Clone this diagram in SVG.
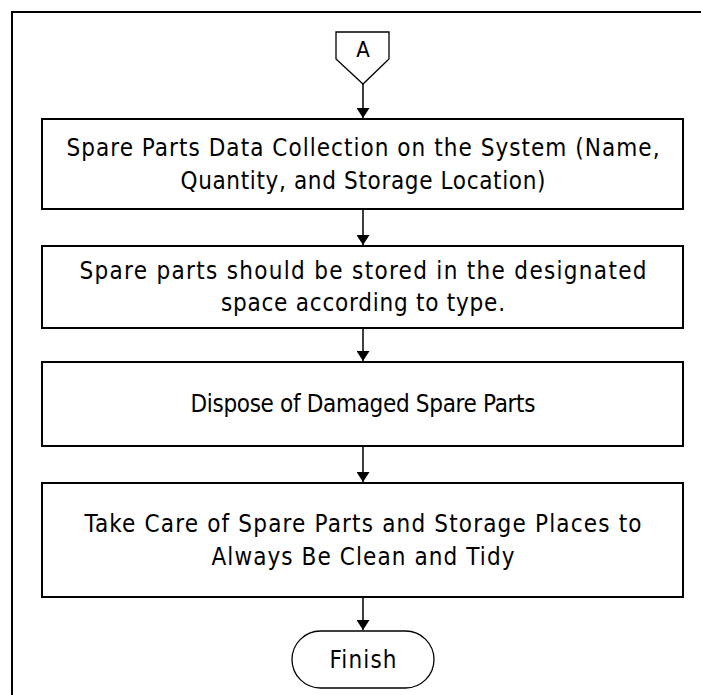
<svg xmlns="http://www.w3.org/2000/svg" width="701" height="695" viewBox="0 0 701 695">
  <style>
    .frame { fill: none; stroke: #000; stroke-width: 2; }
    .box { fill: #fff; stroke: #000; stroke-width: 2; }
    .conn { fill: #fff; stroke: #000; stroke-width: 1.3; }
    .edge { fill: none; stroke: #000; stroke-width: 1.5; }
    .lbl { font-family: "DejaVu Sans Condensed", "DejaVu Sans", sans-serif; font-size: 24px; fill: #000; text-anchor: middle; dominant-baseline: central; }
  </style>
  <defs>
    <marker id="arrow" viewBox="0 0 10 13" refX="10" refY="6.5" markerWidth="10" markerHeight="13" markerUnits="userSpaceOnUse" orient="auto">
      <path d="M0,0 L10,6.5 L0,13 Z" fill="#000"/>
    </marker>
  </defs>
  <rect width="701" height="695" fill="#fff"/>
  <!-- page border, open past the right and bottom edges -->
  <rect class="frame" x="12" y="12" width="720" height="720"/>

  <g id="connectors">
    <line class="edge" x1="363" y1="84" x2="363" y2="118" marker-end="url(#arrow)"/>
    <line class="edge" x1="363" y1="209" x2="363" y2="245" marker-end="url(#arrow)"/>
    <line class="edge" x1="363" y1="328" x2="363" y2="361" marker-end="url(#arrow)"/>
    <line class="edge" x1="363" y1="446" x2="363" y2="482" marker-end="url(#arrow)"/>
    <line class="edge" x1="363" y1="597" x2="363" y2="630" marker-end="url(#arrow)"/>
  </g>

  <g id="connector-a">
    <polygon class="conn" points="336,32 389,32 389,59 363,84 336,59"/>
    <text class="lbl" x="363" y="49" style="font-size:22px">A</text>
  </g>

  <g id="step-collect">
    <rect class="box" x="42" y="119" width="641" height="90"/>
    <text class="lbl" x="363" y="148" textLength="593" lengthAdjust="spacing">Spare Parts Data Collection on the System (Name,</text>
    <text class="lbl" x="363" y="181" textLength="365" lengthAdjust="spacing">Quantity, and Storage Location)</text>
  </g>

  <g id="step-store">
    <rect class="box" x="42" y="246" width="641" height="82"/>
    <text class="lbl" x="363" y="271" textLength="567" lengthAdjust="spacing">Spare parts should be stored in the designated</text>
    <text class="lbl" x="363" y="303" textLength="284" lengthAdjust="spacing">space according to type.</text>
  </g>

  <g id="step-dispose">
    <rect class="box" x="42" y="362" width="641" height="84"/>
    <text class="lbl" x="363" y="404" textLength="345" lengthAdjust="spacing">Dispose of Damaged Spare Parts</text>
  </g>

  <g id="step-clean">
    <rect class="box" x="42" y="483" width="641" height="114"/>
    <text class="lbl" x="363" y="524" textLength="557" lengthAdjust="spacing">Take Care of Spare Parts and Storage Places to</text>
    <text class="lbl" x="363" y="557" textLength="303" lengthAdjust="spacing">Always Be Clean and Tidy</text>
  </g>

  <g id="finish">
    <rect class="conn" x="292" y="631" width="142" height="57" rx="28.5" ry="28.5"/>
    <text class="lbl" x="363" y="660" textLength="67" lengthAdjust="spacing">Finish</text>
  </g>
</svg>
